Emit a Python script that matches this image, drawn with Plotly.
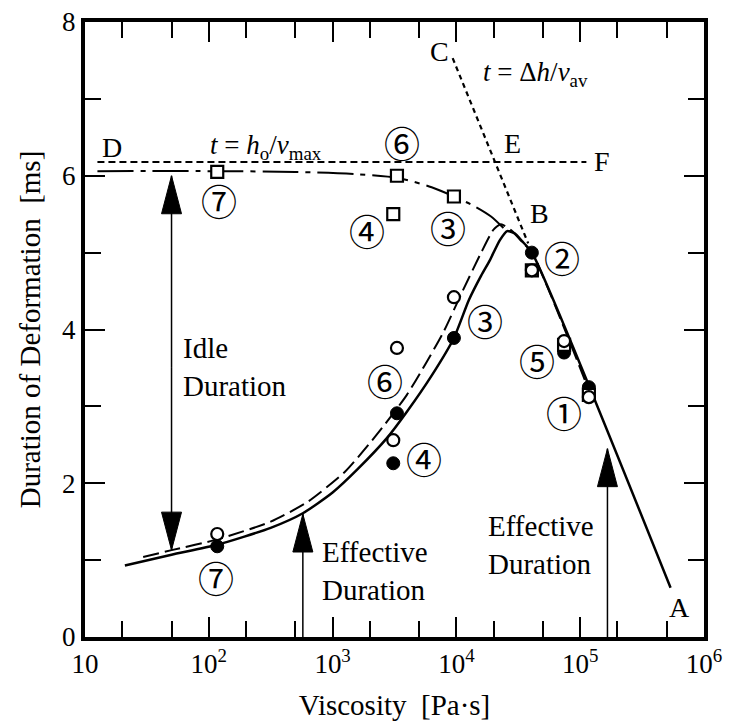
import math
import plotly.graph_objects as go

# ---------------- data ----------------
samples = ["⑦", "④", "⑥", "③", "②", "⑤", "①"]
viscosity = [117, 3090, 3310, 9550, 40700, 74100, 117500]          # Pa·s
dur_filled = [1.18, 2.26, 2.91, 3.89, 5.00, 3.70, 3.25]             # ms  (●)
dur_open = [1.34, 2.56, 3.76, 4.42, 4.77, 3.85, 3.12]               # ms  (○)
dur_square = [6.05, 5.50, 6.00, 5.73, 4.77, 3.80, 3.15]             # ms  (□)

# solid curve (● trend) and straight branch B-A
solid_visc = [21, 50, 117, 316, 575, 1000, 1585, 2754, 3981, 6310, 9550,
              12590, 15850, 18620, 22390, 25700, 29510, 33880, 40740, 537000]
solid_dur = [0.93, 1.07, 1.20, 1.42, 1.61, 1.88, 2.18, 2.59, 2.93, 3.40, 3.89,
             4.38, 4.70, 4.90, 5.16, 5.28, 5.25, 5.15, 5.00, 0.64]

# dashed curve (○ trend)
dashed_visc = [29.5, 50.1, 117.5, 316, 631, 1259, 2188, 3981, 7762, 11220,
               15850, 19950, 22910, 28180, 33880, 40740, 117500]
dashed_dur = [1.04, 1.13, 1.27, 1.50, 1.76, 2.15, 2.60, 3.15, 3.95, 4.50,
              5.00, 5.30, 5.37, 5.28, 5.14, 5.00, 3.21]

# dash-dot curve (□ trend)
dashdot_visc = [12.6, 100, 501, 1585, 3388, 6310, 9550, 14130, 19050, 23990]
dashdot_dur = [6.06, 6.06, 6.05, 6.02, 5.97, 5.85, 5.73, 5.60, 5.47, 5.32]

# reference lines D-F (t = h0/vmax) and C-B (t = Δh/vav)
df_visc = [12.6, 112200]
df_dur = [6.18, 6.18]
cb_visc = [9330, 38000]
cb_dur = [7.53, 5.12]

# arrows: x position, start y, tip y
arrow_visc = [50, 50, 575, 166000]
arrow_from = [3.5, 3.5, 0.0, 0.0]
arrow_tip = [6.00, 1.13, 1.60, 2.45]

# circled sample labels
lab_text = ["⑦", "⑥", "④", "③", "②", "③", "⑥", "④", "⑤", "①", "⑦"]
lab_visc = [120, 3630, 1905, 8510, 70800, 17000, 2630, 5500, 44670, 74130, 115]
lab_dur = [5.68, 6.44, 5.29, 5.33, 4.94, 4.12, 3.34, 2.33, 3.60, 2.93, 0.78]

# point letters
let_text = ["D", "C", "E", "F", "B", "A"]
let_visc = [16.6, 7240, 28180, 151000, 46800, 631000]
let_dur = [6.37, 7.61, 6.42, 6.18, 5.51, 0.39]

x_ticks = [10, 100, 1000, 10000, 100000, 1000000]
x_ticktext = ["10", "10<sup>2</sup>", "10<sup>3</sup>", "10<sup>4</sup>",
              "10<sup>5</sup>", "10<sup>6</sup>"]
x_minor = [20, 50, 200, 500, 2000, 5000, 20000, 50000, 200000, 500000]
y_ticks = [0, 2, 4, 6, 8]
y_minor = [1, 3, 5, 7]

SERIF = "Liberation Serif, Times New Roman, serif"
CIRC = "Noto Sans CJK JP, DejaVu Sans, sans-serif"

fig = go.Figure()

fig.add_trace(go.Scatter(x=df_visc, y=df_dur, mode="lines",
                         line=dict(color="black", width=2, dash="7px,4px")))
fig.add_trace(go.Scatter(x=cb_visc, y=cb_dur, mode="lines",
                         line=dict(color="black", width=2.2, dash="5px,4px")))
fig.add_trace(go.Scatter(x=dashdot_visc, y=dashdot_dur, mode="lines",
                         line=dict(color="black", width=2, dash="36px,7px,5px,7px",
                                   shape="spline", smoothing=0.8)))
fig.add_trace(go.Scatter(x=dashed_visc, y=dashed_dur, mode="lines",
                         line=dict(color="black", width=2, dash="16px,6px",
                                   shape="spline", smoothing=0.6)))
fig.add_trace(go.Scatter(x=solid_visc, y=solid_dur, mode="lines",
                         line=dict(color="black", width=2.5,
                                   shape="spline", smoothing=0.6)))

# arrow shafts
for xv, y0, y1 in zip(arrow_visc, arrow_from, arrow_tip):
    fig.add_trace(go.Scatter(x=[xv, xv], y=[y0, y1], mode="lines",
                             line=dict(color="black", width=1.5)))

# markers
fig.add_trace(go.Scatter(x=viscosity, y=dur_filled, mode="markers",
                         marker=dict(symbol="circle", size=13, color="black",
                                     line=dict(color="black", width=1))))
fig.add_trace(go.Scatter(x=viscosity, y=dur_square, mode="markers",
                         marker=dict(symbol="square", size=12, color="white",
                                     line=dict(color="black", width=2.2))))
fig.add_trace(go.Scatter(x=viscosity, y=dur_open, mode="markers",
                         marker=dict(symbol="circle", size=12, color="white",
                                     line=dict(color="black", width=2.2))))

# arrow heads (pixel-sized triangles anchored at the tip)
shapes = []
for xv, y0, y1 in zip(arrow_visc, arrow_from, arrow_tip):
    up = y1 > y0
    L = -38 if up else 38
    shapes.append(dict(type="path", xref="x", yref="y",
                       xsizemode="pixel", ysizemode="pixel",
                       xanchor=xv, yanchor=y1,
                       path=f"M 0 0 L -10 {L} L 10 {L} Z",
                       fillcolor="black", line=dict(color="black", width=1)))

ann = []
for t, xv, yv in zip(lab_text, lab_visc, lab_dur):
    ann.append(dict(x=math.log10(xv), y=yv, text=t, showarrow=False,
                    font=dict(family=CIRC, size=36, color="black")))
for t, xv, yv in zip(let_text, let_visc, let_dur):
    ann.append(dict(x=math.log10(xv), y=yv, text=t, showarrow=False,
                    font=dict(family=SERIF, size=28, color="black")))

ann.append(dict(x=math.log10(98), y=6.37, xanchor="left",
                text="<i>t</i> = <i>h</i><sub>o</sub>/<i>v</i><sub>max</sub>",
                showarrow=False, font=dict(family=SERIF, size=27, color="black")))
ann.append(dict(x=math.log10(15850), y=7.33, xanchor="left",
                text="<i>t</i> = Δ<i>h</i>/<i>v</i><sub>av</sub>",
                showarrow=False, font=dict(family=SERIF, size=27, color="black")))
ann.append(dict(x=math.log10(60), y=3.51, xanchor="left", align="left",
                text="Idle<br>Duration", showarrow=False,
                font=dict(family=SERIF, size=29, color="black")))
ann.append(dict(x=math.log10(794), y=0.86, xanchor="left", align="left",
                text="Effective<br>Duration", showarrow=False,
                font=dict(family=SERIF, size=29, color="black")))
ann.append(dict(x=math.log10(17400), y=1.20, xanchor="left", align="left",
                text="Effective<br>Duration", showarrow=False,
                font=dict(family=SERIF, size=29, color="black")))

axis_common = dict(showgrid=False, zeroline=False, ticks="inside", ticklen=20,
                   tickwidth=2, tickcolor="black", showline=True, linewidth=4,
                   linecolor="black", mirror="allticks", automargin=False)

fig.update_layout(
    width=732, height=724,
    margin=dict(l=85, r=28, t=22, b=87),
    paper_bgcolor="white", plot_bgcolor="white",
    showlegend=False,
    shapes=shapes, annotations=ann,
    font=dict(family=SERIF, color="black"),
    xaxis=dict(type="log", range=[1, 6], tickmode="array", tickvals=x_ticks,
               ticktext=x_ticktext, tickfont=dict(size=27, family=SERIF),
               minor=dict(tickmode="array", tickvals=x_minor, ticks="inside",
                          ticklen=16, tickwidth=2, tickcolor="black", showgrid=False),
               title=dict(text="Viscosity  [Pa·s]", font=dict(size=29, family=SERIF),
                          standoff=17),
               **axis_common),
    yaxis=dict(range=[0, 8], tickmode="array", tickvals=y_ticks,
               tickfont=dict(size=27, family=SERIF),
               minor=dict(tickmode="array", tickvals=y_minor, ticks="inside",
                          ticklen=16, tickwidth=2, tickcolor="black", showgrid=False),
               title=dict(text="Duration of Deformation  [ms]",
                          font=dict(size=29, family=SERIF), standoff=14),
               **axis_common),
)

fig.write_html("out.html")
